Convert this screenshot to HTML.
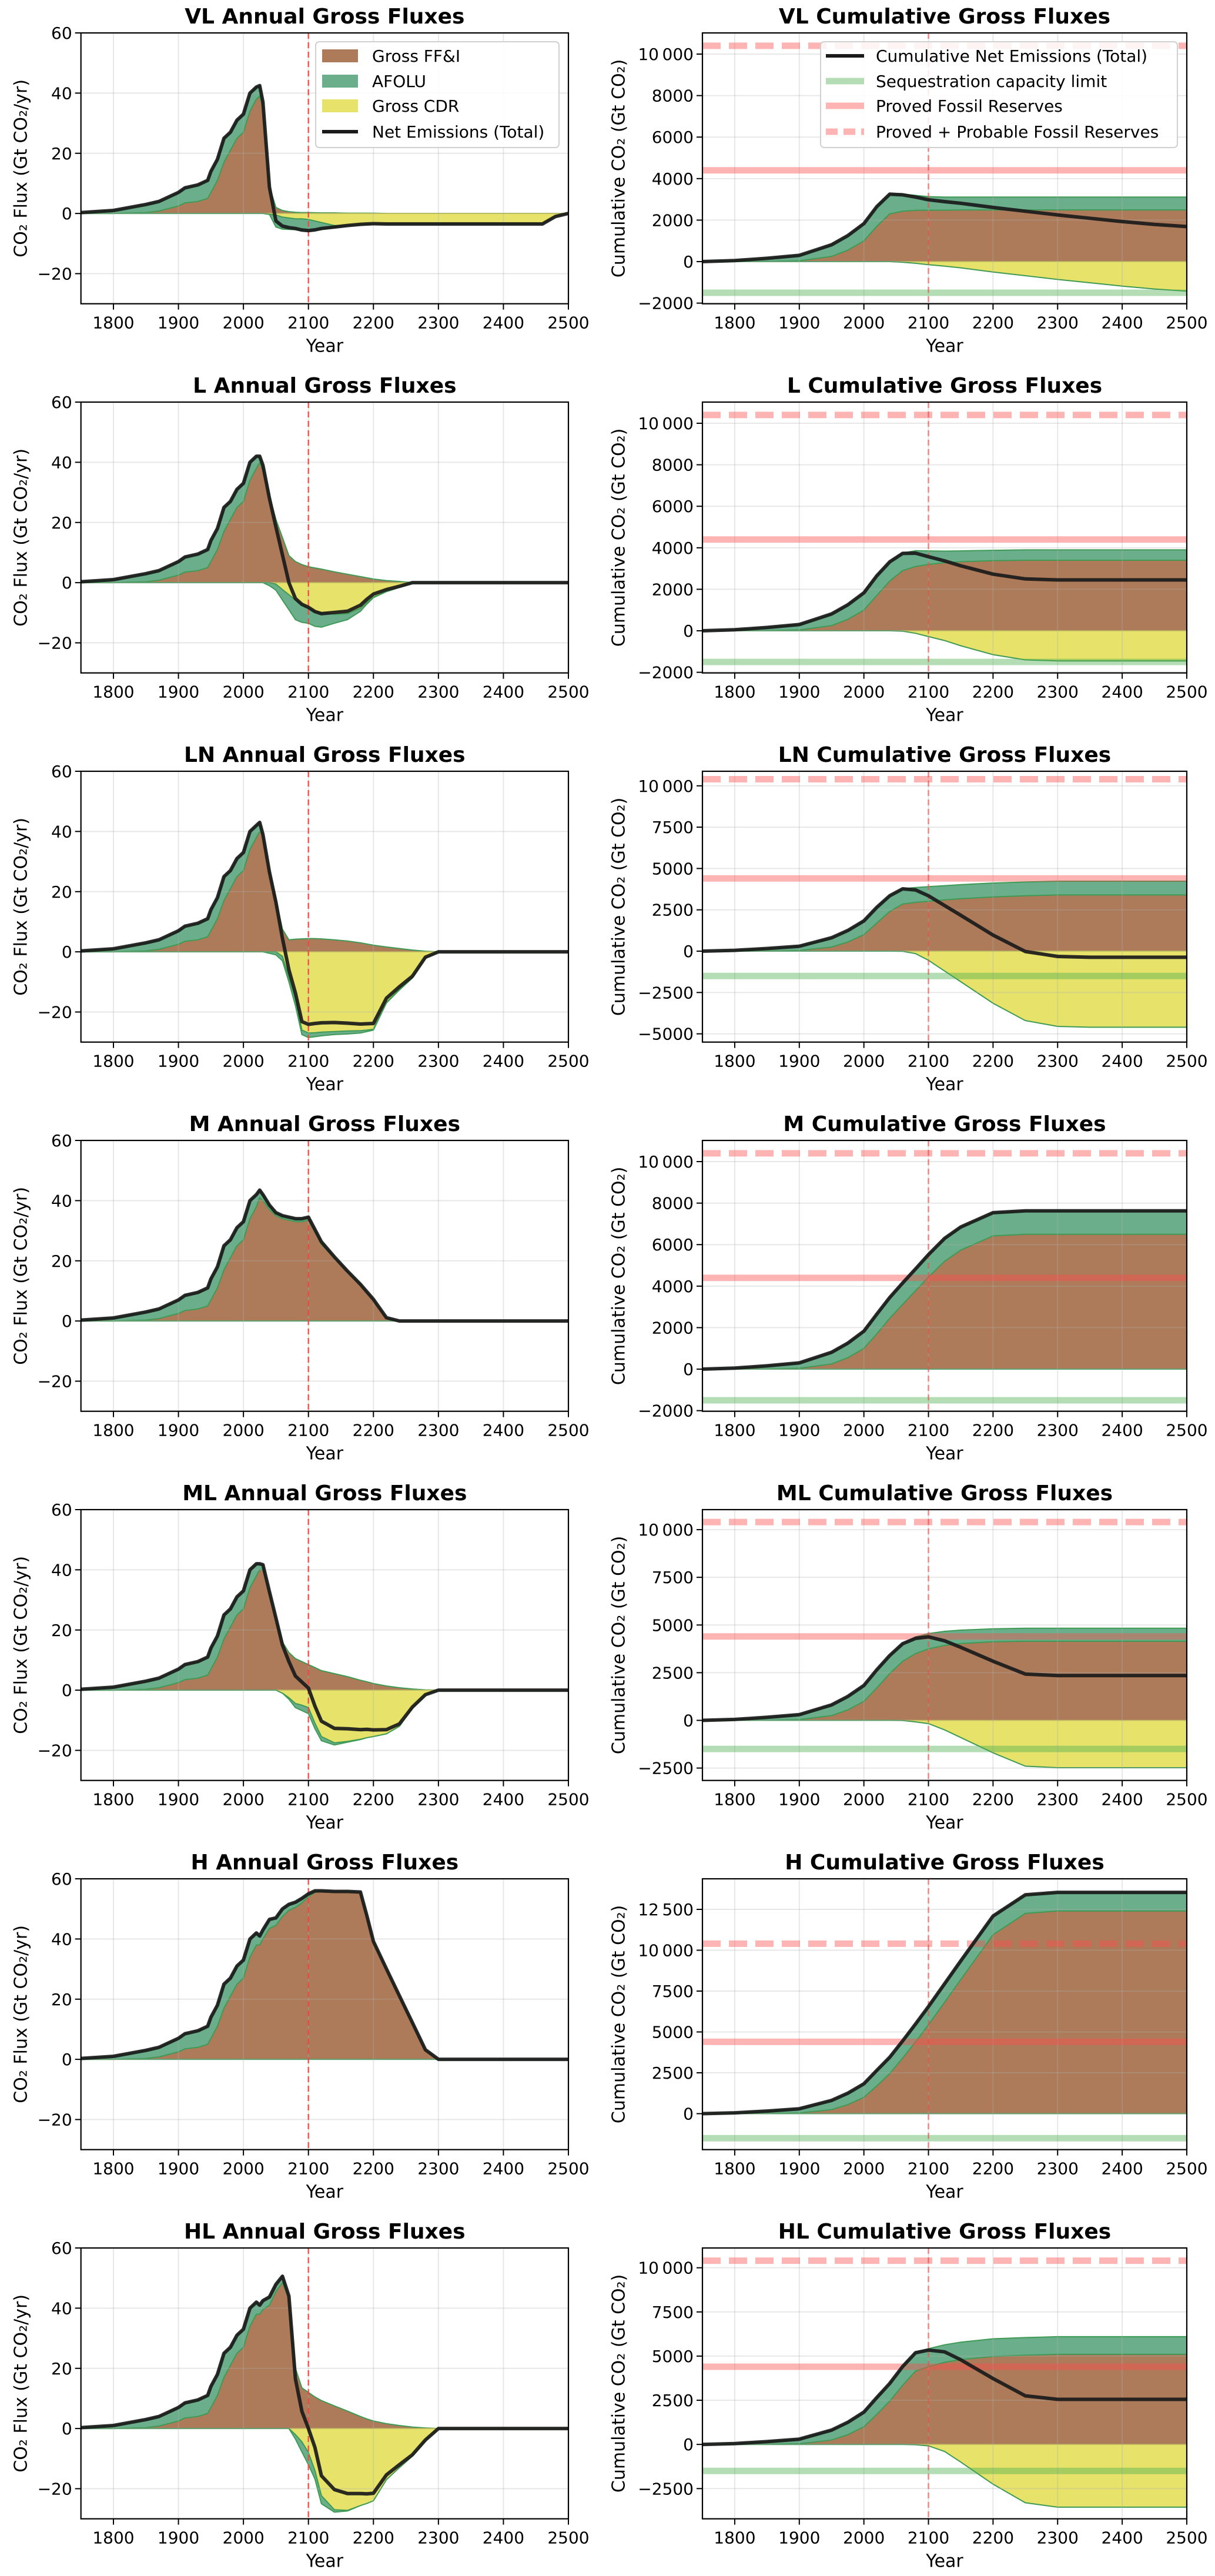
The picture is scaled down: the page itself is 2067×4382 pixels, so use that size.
<!DOCTYPE html>
<html><head><meta charset="utf-8"><title>Gross Fluxes</title>
<style>html,body{margin:0;padding:0;background:#fff}svg{display:block}</style></head>
<body>
<svg id="fig" xmlns="http://www.w3.org/2000/svg" width="2067" height="4382" viewBox="0 0 2067 4382"></svg>
<script>
// ---------- DATA ----------
const scenarios = ["VL","L","LN","M","ML","H","HL"];
const histYears = [1750,1800,1850,1870,1900,1910,1930,1945,1950,1960,1970,1980,1990,2000,2010,2020];
const histFF = [0,0,0.3,0.8,2.5,3.5,4,5,7,11,17,21,25,27,34,38];
const histAF = [0.3,1,2.7,3.2,4.5,5,5.5,6,7,7,8,6,6,6,6,4];
const histCDR = [0,0,0,0,0,0,0,0,0,0,0,0,0,0,0,0];
const futureYears = [2025,2030,2040,2050,2060,2070,2080,2090,2100,2110,2120,2140,2160,2180,2190,2200,2220,2240,2260,2280,2300,2400,2460,2480,2500];

const vlFF = [39,35,8,2,1,0.6,0.4,0.3,0.3,0.25,0.2,0.2,0.1,0.1,0.1,0.1,0,0,0,0,0,0,0,0,0];
const vlAF = [3.5,2,1,-4,-4,-3.8,-3.6,-4,-4,-3.2,-2.2,-0.7,-0.1,0,0,0,0,0,0,0,0,0,0,0,0];
const vlCDR = [0,0,0.3,0.5,1.2,1.5,1.8,1.8,2,2.5,3,4,4,3.7,3.6,3.5,3.5,3.5,3.5,3.5,3.5,3.5,3.5,1,0];

const lFF = [40,37,29,21,15,9,7,6,5.3,4.9,4.5,3.6,2.8,2.0,1.6,1.2,0.7,0.4,0,0,0,0,0,0,0];
const lAF = [2,2,-1,-2,-3.5,-5,-6.5,-6,-5,-5,-4.8,-3,-2,-1,-0.6,-0.2,0,0,0,0,0,0,0,0,0];
const lCDR = [0,0,0,0.5,2.3,4,5.8,7.2,8.5,9.5,10,10.5,10.3,8.5,6.5,4.8,3,1.6,0,0,0,0,0,0,0];

const lnFF = [40,39,27,17.5,7.5,4,4.2,4.3,4.4,4.4,4.3,4.0,3.6,3.0,2.6,2.2,1.6,1.1,0.6,0.2,0,0,0,0,0];
const lnAF = [3,0,-0.5,-1,-1.5,-1.5,-2.5,-1.5,-1.5,-1.3,-1.2,-1,-1,-0.8,-0.5,-0.3,-0.2,-0.2,-0.1,0,0,0,0,0,0];
const lnCDR = [0,0,0,0,1.5,8.5,15.4,26,27,26.9,26.7,26.5,26.3,26.2,26,25.7,16.8,12.5,8.6,2,0,0,0,0,0];

const mFF = [41,40,37,35,34,33.5,33,33,33.5,29.5,25.5,20.8,16.3,12,9.5,7,1,0,0,0,0,0,0,0,0];
const mAF = [2.5,2,1.5,1,1,1,1,1,1,0.9,0.8,0.5,0.3,0.2,0.2,0.2,0.1,0,0,0,0,0,0,0,0];
const mCDR = [0,0,0,0,0,0,0,0,0,0,0,0,0,0,0,0,0,0,0,0,0,0,0,0,0];

const mlFF = [40,40,31.5,23.5,16,12.5,10.5,9.5,8.5,7.5,6.5,5.5,4.5,3.3,2.8,2.2,1.4,0.8,0.4,0.1,0,0,0,0,0];
const mlAF = [2,1.7,1.2,0.5,0,-0.5,-1.4,-1.8,-2,-1.8,-1.4,-0.7,-0.3,-0.1,0,0,0,0,0,0,0,0,0,0,0];
const mlCDR = [0,0,0,0,1,2.5,4.4,5,5.8,11,15.4,17.5,17,16.3,15.8,15.4,14.5,12,6,1.6,0,0,0,0,0];

const hFF = [38,40,43.5,44.5,47.5,49.5,50.5,52,54,55.5,55.8,55.8,55.8,55.6,47.7,39.2,30.1,21.1,12.2,3.2,0,0,0,0,0];
const hAF = [3,3,3,2.5,2.5,2,1.7,1.5,1,0.5,0.2,0,0,0,0,0,0,0,0,0,0,0,0,0,0];
const hCDR = [0,0,0,0,0,0,0,0,0,0,0,0,0,0,0,0,0,0,0,0,0,0,0,0,0];

const hlFF = [38,39.5,41,45.5,48.5,43,20,13.5,12,10.5,9.3,7.5,5.8,4,3.2,2.5,1.6,1,0.5,0.2,0,0,0,0,0];
const hlAF = [3,3,2.7,2.4,2.1,1,-1.5,-3.4,-4,-2.8,-2.7,-0.8,-0.2,0,0,0,0,0,0,0,0,0,0,0,0];
const hlCDR = [0,0,0,0,0,0,2,4.4,8,14,22.3,27,27.2,25.6,24.9,24,17,13,9.2,4,0,0,0,0,0];

// cumulative (Gt CO2)
const cumHistYears = [1750,1800,1850,1900,1950,1975,2000,2020];
const cumHistFF = [0,0,10,40,250,550,1000,1700];
const cumHistAF = [0,50,150,260,560,700,830,950];
const cumHistCDR = [0,0,0,0,0,0,0,0];
const cumFutureYears = [2040,2060,2080,2100,2125,2150,2200,2250,2300,2350,2400,2450,2500];

const vlCumFF = [2300,2430,2470,2480,2480,2490,2490,2490,2490,2490,2490,2490,2490];
const vlCumAF = [950,820,720,650,630,620,620,620,620,620,620,620,620];
const vlCumCDR = [0,30,80,150,220,300,500,680,860,1020,1180,1320,1420];
const lCumFF = [2400,2900,3100,3200,3280,3330,3380,3400,3400,3400,3400,3400,3400];
const lCumAF = [920,850,760,650,560,520,500,500,500,500,500,500,500];
const lCumCDR = [0,20,120,280,470,720,1150,1400,1450,1450,1450,1450,1450];
const lnCumFF = [2400,2850,2950,3020,3100,3170,3280,3350,3400,3400,3400,3400,3400];
const lnCumAF = [950,930,900,880,860,850,840,830,830,830,830,830,830];
const lnCumCDR = [0,10,150,550,1200,1850,3150,4200,4550,4600,4600,4600,4600];
const mCumFF = [2450,3120,3780,4440,5200,5740,6420,6500,6500,6500,6500,6500,6500];
const mCumAF = [1000,1030,1050,1080,1100,1110,1120,1130,1130,1130,1130,1130,1130];
const mCumCDR = [0,0,0,0,0,0,0,0,0,0,0,0,0];
const mlCumFF = [2450,3100,3500,3750,3930,4030,4120,4150,4150,4150,4150,4150,4150];
const mlCumAF = [950,930,880,800,740,700,680,680,680,680,680,680,680];
const mlCumCDR = [0,10,80,170,500,900,1700,2400,2480,2480,2480,2480,2480];
const hCumFF = [2450,3400,4400,5440,6820,8210,10950,12250,12400,12400,12400,12400,12400];
const hCumAF = [1000,1050,1090,1110,1130,1140,1140,1140,1140,1140,1140,1140,1140];
const hCumCDR = [0,0,0,0,0,0,0,0,0,0,0,0,0];
const hlCumFF = [2450,3350,4150,4400,4650,4800,4980,5050,5100,5100,5100,5100,5100];
const hlCumAF = [1000,1060,1060,1020,990,990,1000,1000,1000,1000,1000,1000,1000];
const hlCumCDR = [0,0,20,80,400,1000,2250,3300,3550,3550,3550,3550,3550];

const annualFF = [vlFF,lFF,lnFF,mFF,mlFF,hFF,hlFF];
const annualAF = [vlAF,lAF,lnAF,mAF,mlAF,hAF,hlAF];
const annualCDR = [vlCDR,lCDR,lnCDR,mCDR,mlCDR,hCDR,hlCDR];
const cumFF = [vlCumFF,lCumFF,lnCumFF,mCumFF,mlCumFF,hCumFF,hlCumFF];
const cumAF = [vlCumAF,lCumAF,lnCumAF,mCumAF,mlCumAF,hCumAF,hlCumAF];
const cumCDR = [vlCumCDR,lCumCDR,lnCumCDR,mCumCDR,mlCumCDR,hCumCDR,hlCumCDR];

const xTicks = [1800,1900,2000,2100,2200,2300,2400,2500];
const annualYTicks = [-20,0,20,40,60];
const annualYTickLabels = ["\u221220","0","20","40","60"];
const cumYMin = [-2030,-2030,-5500,-2030,-3150,-2200,-4210];
const cumYMax = [11020,11020,10880,11020,11050,14370,11120];
const cumYTicks = [
  [-2000,0,2000,4000,6000,8000,10000],
  [-2000,0,2000,4000,6000,8000,10000],
  [-5000,-2500,0,2500,5000,7500,10000],
  [-2000,0,2000,4000,6000,8000,10000],
  [-2500,0,2500,5000,7500,10000],
  [0,2500,5000,7500,10000,12500],
  [-2500,0,2500,5000,7500,10000]
];
const provedReserves = 4400;
const probableReserves = 10400;
const sequestrationLimit = -1500;
const targetYear = 2100;

// ---------- LAYOUT ----------
const NS = "http://www.w3.org/2000/svg";
const svg = document.getElementById("fig");
const ROW_PITCH = 628, TOP0 = 56, PH = 460.7;
const LX0 = 137.7, LX1 = 967, RX0 = 1195, RX1 = 2019;
const FONT = "'DejaVu Sans','Liberation Sans',sans-serif";
const C_FF = "#ad7b5a", C_FF_E = "#8a5a3c", C_AF = "#6aae8b", C_AF_E = "#3f9a55", C_CDR = "#e6e26a", C_CDR_E = "#c9c43a";

function mk(tag, attrs, parent) {
  const e = document.createElementNS(NS, tag);
  for (const k in attrs) e.setAttribute(k, attrs[k]);
  (parent || svg).appendChild(e);
  return e;
}
function fmt(v) {
  let s = Math.abs(v) >= 10000 ? String(Math.abs(v)).replace(/(\d+)(\d{3})$/, "$1\u2009$2") : String(Math.abs(v));
  return (v < 0 ? "\u2212" : "") + s;
}
function areaD(xs, lo, hi, sx, sy) {
  let d = "M";
  for (let i = 0; i < xs.length; i++) d += sx(xs[i]).toFixed(1) + "," + sy(hi[i]).toFixed(1) + " L";
  for (let i = xs.length - 1; i >= 0; i--) d += sx(xs[i]).toFixed(1) + "," + sy(lo[i]).toFixed(1) + (i ? " L" : " Z");
  return d;
}
function lineD(xs, ys, sx, sy) {
  return xs.map((x, i) => (i ? "L" : "M") + sx(x).toFixed(1) + "," + sy(ys[i]).toFixed(1)).join(" ");
}

function drawPanel(row, side, years, ff, af, cdr, ymin, ymax, yticks, ylabels) {
  const x0 = side === "left" ? LX0 : RX0, x1 = side === "left" ? LX1 : RX1;
  const y0 = TOP0 + row * ROW_PITCH, y1 = y0 + PH;
  const sx = v => x0 + (v - 1750) / 750 * (x1 - x0);
  const sy = v => y1 - (v - ymin) / (ymax - ymin) * PH;
  const sc = scenarios[row];
  const g = mk("g", {});
  
  
  const cid = "clip-" + side + row;
  const cp = mk("clipPath", {id: cid}, g);
  mk("rect", {x: x0, y: y0, width: x1 - x0, height: PH}, cp);
  const plot = mk("g", {"clip-path": "url(#" + cid + ")"}, g);

  const zero = years.map(() => 0);
  const ffTop = ff.slice();
  const afPosTop = ff.map((v, i) => v + Math.max(af[i], 0));
  const cdrLo = cdr.map(v => -v);
  const afNegLo = cdr.map((v, i) => -v + Math.min(af[i], 0));
  const net = ff.map((v, i) => v + af[i] - cdr[i]);

  const a1 = mk("path", {d: areaD(years, zero, ffTop, sx, sy), fill: C_FF, stroke: C_FF_E, "stroke-width": 1.5, "stroke-opacity": 0.6}, plot);
  
  
  const a2 = mk("path", {d: areaD(years, ffTop, afPosTop, sx, sy), fill: C_AF, stroke: C_AF_E, "stroke-width": 2}, plot);
  
  
  const a3 = mk("path", {d: areaD(years, cdrLo, zero, sx, sy), fill: C_CDR, stroke: C_CDR_E, "stroke-width": 1.5}, plot);
  
  
  const a4 = mk("path", {d: areaD(years, afNegLo, cdrLo, sx, sy), fill: C_AF, stroke: C_AF_E, "stroke-width": 2}, plot);
  
  

  // grid
  xTicks.forEach(t => mk("line", {x1: sx(t), x2: sx(t), y1: y0, y2: y1, stroke: "#b0b0b0", "stroke-opacity": 0.3, "stroke-width": 2}, plot));
  yticks.forEach(t => mk("line", {x1: x0, x2: x1, y1: sy(t), y2: sy(t), stroke: "#b0b0b0", "stroke-opacity": 0.3, "stroke-width": 2}, plot));

  if (side === "right") {
    const seq = mk("line", {x1: x0, x2: x1, y1: sy(sequestrationLimit), y2: sy(sequestrationLimit), stroke: "#4caf50", "stroke-opacity": 0.42, "stroke-width": 11}, plot);
    
    
    const pr = mk("line", {x1: x0, x2: x1, y1: sy(provedReserves), y2: sy(provedReserves), stroke: "#ff4d4d", "stroke-opacity": 0.42, "stroke-width": 11}, plot);
    
    
    const pp = mk("line", {x1: x0, x2: x1, y1: sy(probableReserves), y2: sy(probableReserves), stroke: "#ff4d4d", "stroke-opacity": 0.42, "stroke-width": 11, "stroke-dasharray": "31 14"}, plot);
    
    
  }
  const vl = mk("line", {x1: sx(targetYear), x2: sx(targetYear), y1: y0, y2: y1, stroke: "#e8473f", "stroke-opacity": side === "left" ? 0.85 : 0.6, "stroke-width": 2.5, "stroke-dasharray": "10 6"}, plot);
  
  

  const nl = mk("path", {d: lineD(years, net, sx, sy), fill: "none", stroke: "#1a1a1a", "stroke-width": 6, "stroke-linejoin": "round", "stroke-opacity": 0.92}, plot);
  
  

  // frame
  mk("rect", {x: x0, y: y0, width: x1 - x0, height: PH, fill: "none", stroke: "#000", "stroke-width": 2.2}, g);
  // x ticks
  xTicks.forEach(t => {
    mk("line", {x1: sx(t), x2: sx(t), y1: y1, y2: y1 + 10, stroke: "#000", "stroke-width": 2}, g);
    const tl = mk("text", {x: sx(t), y: y1 + 42, "text-anchor": "middle", "font-family": FONT, "font-size": 28, fill: "#000"}, g);
    tl.textContent = String(t);
    
    
  });
  yticks.forEach((t, i) => {
    mk("line", {x1: x0 - 10, x2: x0, y1: sy(t), y2: sy(t), stroke: "#000", "stroke-width": 2}, g);
    const tl = mk("text", {x: x0 - 15, y: sy(t) + 10, "text-anchor": "end", "font-family": FONT, "font-size": 28, fill: "#000"}, g);
    tl.textContent = ylabels[i];
    
    
  });
  const xt = mk("text", {x: (x0 + x1) / 2, y: y1 + 82, "text-anchor": "middle", "font-family": FONT, "font-size": 30, fill: "#000"}, g);
  xt.textContent = "Year";
  
  
  const yx = side === "left" ? 36 : 1053, yc = (y0 + y1) / 2;
  const yt = mk("text", {x: yx, y: yc, transform: "rotate(-90 " + yx + " " + yc + ")", "text-anchor": "middle", "dominant-baseline": "central", "font-family": FONT, "font-size": 30, fill: "#000"}, g);
  yt.textContent = side === "left" ? "CO\u2082 Flux (Gt CO\u2082/yr)" : "Cumulative CO\u2082 (Gt CO\u2082)";
  
  
  const tt = mk("text", {x: (x0 + x1) / 2, y: y0 - 16, "text-anchor": "middle", "font-family": FONT, "font-size": 36, "font-weight": "bold", fill: "#000"}, g);
  tt.textContent = sc + (side === "left" ? " Annual Gross Fluxes" : " Cumulative Gross Fluxes");
  
  
}

for (let r = 0; r < scenarios.length; r++) {
  drawPanel(r, "left", histYears.concat(futureYears), histFF.concat(annualFF[r]), histAF.concat(annualAF[r]), histCDR.concat(annualCDR[r]), -30, 60, annualYTicks, annualYTickLabels);
  drawPanel(r, "right", cumHistYears.concat(cumFutureYears), cumHistFF.concat(cumFF[r]), cumHistAF.concat(cumAF[r]), cumHistCDR.concat(cumCDR[r]), cumYMin[r], cumYMax[r], cumYTicks[r], cumYTicks[r].map(fmt));
}

// ---------- LEGENDS ----------
const legL = mk("g", {});


mk("rect", {x: 537, y: 71, width: 414, height: 180, rx: 6, fill: "#fff", "fill-opacity": 0.85, stroke: "#d0d0d0", "stroke-width": 2}, legL);
const leftItems = [["Gross FF&I", C_FF, "patch"], ["AFOLU", C_AF, "patch"], ["Gross CDR", C_CDR, "patch"], ["Net Emissions (Total)", "#1a1a1a", "line"]];
const legYs = [95, 138, 180, 224];
leftItems.forEach((it, i) => {
  const y = legYs[i];
  if (it[2] === "patch") mk("rect", {x: 548, y: y - 11, width: 61, height: 22, fill: it[1]}, legL);
  else mk("line", {x1: 548, x2: 609, y1: y, y2: y, stroke: it[1], "stroke-width": 6}, legL);
  const t = mk("text", {x: 633, y: y + 10, "font-family": FONT, "font-size": 28, fill: "#000"}, legL);
  t.textContent = it[0];
  
  
});
const legR = mk("g", {});


mk("rect", {x: 1396, y: 71, width: 607, height: 180, rx: 6, fill: "#fff", "fill-opacity": 0.85, stroke: "#d0d0d0", "stroke-width": 2}, legR);
const rightItems = [["Cumulative Net Emissions (Total)", "#1a1a1a", 1, ""], ["Sequestration capacity limit", "#4caf50", 0.42, ""], ["Proved Fossil Reserves", "#ff4d4d", 0.42, ""], ["Proved + Probable Fossil Reserves", "#ff4d4d", 0.42, "20 10"]];
rightItems.forEach((it, i) => {
  const y = legYs[i];
  const ln = mk("line", {x1: 1405, x2: 1470, y1: y, y2: y, stroke: it[1], "stroke-opacity": it[2], "stroke-width": i === 0 ? 6 : 11}, legR);
  if (it[3]) ln.setAttribute("stroke-dasharray", it[3]);
  const t = mk("text", {x: 1490, y: y + 10, "font-family": FONT, "font-size": 28, fill: "#000"}, legR);
  t.textContent = it[0];
  
  
});
</script>
</body></html>
